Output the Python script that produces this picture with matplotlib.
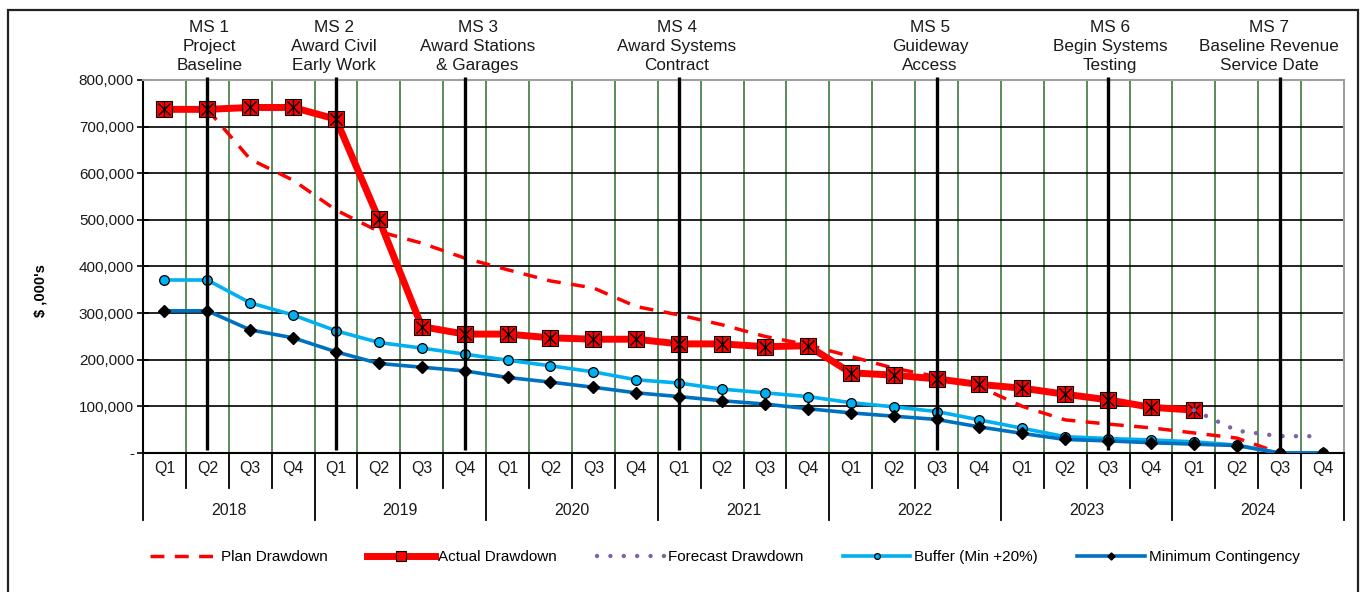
import matplotlib
matplotlib.use('Agg')
import matplotlib.pyplot as plt
from matplotlib.patches import Rectangle
from matplotlib.ticker import FuncFormatter
import numpy as np

plt.rcParams['font.family'] = ['Liberation Sans', 'DejaVu Sans']

quarters = ['Q1', 'Q2', 'Q3', 'Q4'] * 7
years = ['2018', '2019', '2020', '2021', '2022', '2023', '2024']

nan = np.nan
# $ ,000's
plan = [nan, 737000, 630000, 585000, 521000, 475000, 450000, 418000, 393000, 369000,
        354000, 314000, 296000, 275000, 250000, 232000, 207000, 182000, 164000, 142000,
        100000, 71000, 62000, 54000, 43000, 32000, 0, nan]
actual = [737000, 737000, 741000, 741000, 716000, 501000, 271000, 255000, 255000, 247000,
          244000, 244000, 234000, 234000, 228000, 230000, 172000, 167000, 159000, 147000,
          139000, 126000, 114000, 98000, 92000, nan, nan, nan]
forecast = [nan] * 24 + [92000, 48000, 36000, 36000]
buffer = [371000, 371000, 322000, 296000, 262000, 237000, 225000, 212000, 199000, 187000,
          174000, 157000, 150000, 137000, 129000, 121000, 108000, 99000, 89000, 71000,
          53000, 35000, 31000, 28000, 24000, 17000, 0, 0]
min_cont = [305000, 305000, 264000, 247000, 217000, 192000, 184000, 176000, 162000, 152000,
            141000, 129000, 121000, 112000, 105000, 95000, 86000, 79000, 72000, 56000,
            42000, 29000, 26000, 22000, 19000, 16000, 0, 0]

ms_labels = ['MS 1\nProject\nBaseline', 'MS 2\nAward Civil\nEarly Work',
             'MS 3\nAward Stations\n& Garages', 'MS 4\nAward Systems\nContract',
             'MS 5\nGuideway\nAccess', 'MS 6\nBegin Systems\nTesting',
             'MS 7\nBaseline Revenue\nService Date']
ms_quarter = [1, 4, 7, 12, 18, 22, 26]
ms_text_shift = [0.05, -0.05, 0.3, -0.05, -0.15, 0.05, -0.25]

x = np.arange(len(quarters))

fig = plt.figure(figsize=(13.62, 5.92), dpi=100)
ax = fig.add_axes([0.105, 0.2348, 0.8818, 0.6301])

ax.plot(x, plan, color='red', lw=2.5, linestyle=(0, (4, 3)), label='Plan Drawdown', zorder=3)
ax.plot(x, actual, color='red', lw=5, marker='s', markersize=12, markerfacecolor='red',
        markeredgecolor='black', markeredgewidth=0.8, label='Actual Drawdown', zorder=4)
ax.plot(x, actual, lw=0, marker='x', markersize=9, color='black', markeredgewidth=1, zorder=5)
ax.plot(x, actual, lw=0, marker='|', markersize=11, color='black', markeredgewidth=1, zorder=5)
ax.plot(x, forecast, color='#7F62A8', lw=3.2, linestyle=(0, (0.01, 3.0)),
        dash_capstyle='round', label='Forecast Drawdown', zorder=6)
ax.plot(x, buffer, color='#00B0F0', lw=2.6, marker='o', markersize=7,
        markerfacecolor='#00B0F0', markeredgecolor='black', markeredgewidth=0.9,
        label='Buffer (Min +20%)', zorder=3)
ax.plot(x, min_cont, color='#0070C0', lw=2.6, marker='D', markersize=6,
        markerfacecolor='black', markeredgecolor='black', label='Minimum Contingency', zorder=3)

# milestones
for q, lab, dx in zip(ms_quarter, ms_labels, ms_text_shift):
    ax.vlines(q, 6000, 806000, color='black', lw=2.4, zorder=7, clip_on=False)
    ax.text(q + dx, 1.02, lab, transform=ax.get_xaxis_transform(), ha='center', va='bottom',
            fontsize=12.3, linespacing=1.32, color='#1a1a1a')

ax.set_xlim(-0.5, len(quarters) - 0.5)
ax.set_ylim(0, 800000)
ax.set_yticks(np.arange(0, 800001, 100000))
ax.yaxis.set_major_formatter(FuncFormatter(lambda v, p: '-' if v == 0 else f'{v:,.0f}'))
ax.tick_params(axis='y', direction='inout', length=9, width=1.2, labelsize=11, pad=2,
               labelcolor='#1a1a1a')
ax.set_xticks([])
ax.grid(axis='y', color='black', lw=1.2, zorder=1)
for b in np.arange(0.5, len(quarters) - 0.5):
    ax.axvline(b, color='#2E6B2E', lw=1.1, zorder=1)
for s in ['top', 'right']:
    ax.spines[s].set_color('#A0A0A0')
    ax.spines[s].set_linewidth(1.5)
for s in ['left', 'bottom']:
    ax.spines[s].set_linewidth(1.5)

# two level x axis
trans = ax.get_xaxis_transform()
for i, q in enumerate(quarters):
    ax.text(i, -0.042, q, transform=trans, ha='center', va='center', fontsize=11.5,
            color='#1a1a1a')
for b in range(len(quarters) + 1):
    yb = -0.18 if b % 4 == 0 else -0.095
    ax.plot([b - 0.5, b - 0.5], [0, yb], transform=trans, color='black', lw=1.3, clip_on=False)
for j, yr in enumerate(years):
    ax.text(4 * j + 1.5, -0.153, yr, transform=trans, ha='center', va='center', fontsize=11.5,
            color='#1a1a1a')

fig.text(0.03, 0.51, "$ ,000's", rotation=90, ha='center', va='center', fontsize=10.5,
         fontweight='bold')

fig.legend(loc='center', bbox_to_anchor=(0.532, 1 - 557 / 592), ncol=5, frameon=False,
           fontsize=11, handlelength=4.4, columnspacing=2.6, handletextpad=0.25,
           markerscale=0.6)

fig.patches.append(Rectangle((8 / 1362, -0.01), 1350 / 1362, 1 - 10 / 592 + 0.01,
                             transform=fig.transFigure, fill=False, lw=1.6,
                             edgecolor='#222222'))

fig.savefig('out.png', dpi=100)
